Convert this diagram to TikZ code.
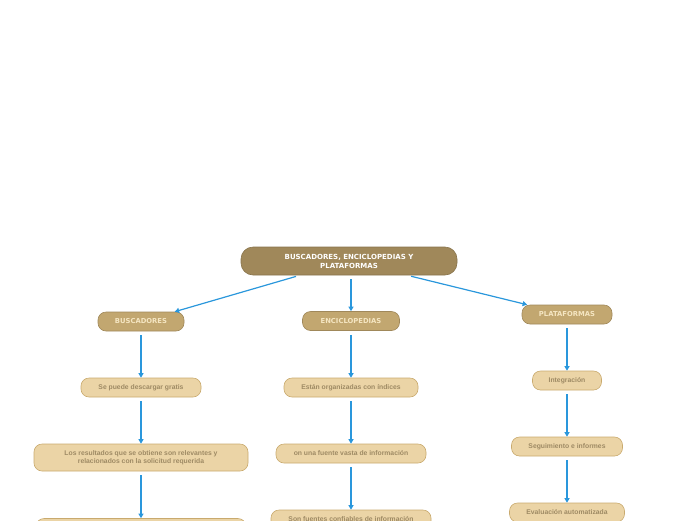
\documentclass[tikz,border=0pt]{standalone}
\usepackage{fontspec}
\setmainfont{Liberation Sans}
\newfontfamily\capfont{DejaVu Sans}
\usetikzlibrary{arrows.meta}
\definecolor{rootfill}{HTML}{A0885A}
\definecolor{midfill}{HTML}{C2A770}
\definecolor{midtext}{HTML}{F5E6C2}
\definecolor{leaffill}{HTML}{EBD4A6}
\definecolor{leafdraw}{HTML}{C9AA6E}
\definecolor{leaftext}{HTML}{9E8A64}
\definecolor{linkblue}{HTML}{2A97DC}
\tikzset{
  x=1pt, y=-1pt,
  rootbox/.style={draw=rootfill!85!black, fill=rootfill, rounded corners=12pt, line width=0.6pt,
    minimum width=216pt, minimum height=28pt, inner sep=0pt, align=center,
    text=white, font=\capfont\bfseries\fontsize{7}{9}\selectfont},
  midbox/.style={draw=rootfill, fill=midfill, rounded corners=8pt, line width=0.6pt,
    minimum height=19pt, inner sep=0pt, align=center,
    text=midtext, font=\capfont\bfseries\fontsize{6.8}{8}\selectfont},
  leafbox/.style={draw=leafdraw, fill=leaffill, rounded corners=8pt, line width=0.6pt,
    minimum height=19pt, inner sep=0pt, align=center,
    text=leaftext, font=\bfseries\fontsize{6.8}{8.4}\selectfont},
  link/.style={draw=linkblue, line width=1.2pt, -{Triangle[length=4.5pt,width=5pt]}, shorten <=4pt},
}
\begin{document}
\begin{tikzpicture}
\useasboundingbox (0,0) rectangle (696,520);
\node[rootbox] (root) at (349,261) {BUSCADORES, ENCICLOPEDIAS Y\\PLATAFORMAS};
\node[midbox, minimum width=86pt] (bus) at (141,321.5) {BUSCADORES};
\node[midbox, minimum width=97pt] (enc) at (351,321) {ENCICLOPEDIAS};
\node[midbox, minimum width=90pt] (pla) at (567,314.5) {PLATAFORMAS};

\node[leafbox, minimum width=120pt] (b1) at (141,387.5) {Se puede descargar gratis};
\node[leafbox, minimum width=214pt, minimum height=27pt] (b2) at (141,457.5) {Los resultados que se obtiene son relevantes y\\relacionados con la solicitud requerida};
\node[leafbox, minimum width=210pt, minimum height=27pt] (b3) at (141,532) {};

\node[leafbox, minimum width=134pt] (e1) at (351,387.5) {Están organizadas con índices};
\node[leafbox, minimum width=150pt] (e2) at (351,453.5) {on una fuente vasta de información};
\node[leafbox, minimum width=160pt] (e3) at (351,519.5) {Son fuentes confiables de información};

\node[leafbox, minimum width=69pt] (p1) at (567,380.5) {Integración};
\node[leafbox, minimum width=111pt] (p2) at (567,446.5) {Seguimiento e informes};
\node[leafbox, minimum width=115pt] (p3) at (567,512.5) {Evaluación automatizada};

\draw[link] (root) -- (bus);
\draw[link] (root.south -| enc) -- (enc);
\draw[link] (root) -- (pla);

\draw[link] (bus) -- (b1);
\draw[link] (b1) -- (b2);
\draw[link] (b2) -- (b3);

\draw[link] (enc) -- (e1);
\draw[link] (e1) -- (e2);
\draw[link] (e2) -- (e3);

\draw[link] (pla) -- (p1);
\draw[link] (p1) -- (p2);
\draw[link] (p2) -- (p3);
\end{tikzpicture}
\end{document}
